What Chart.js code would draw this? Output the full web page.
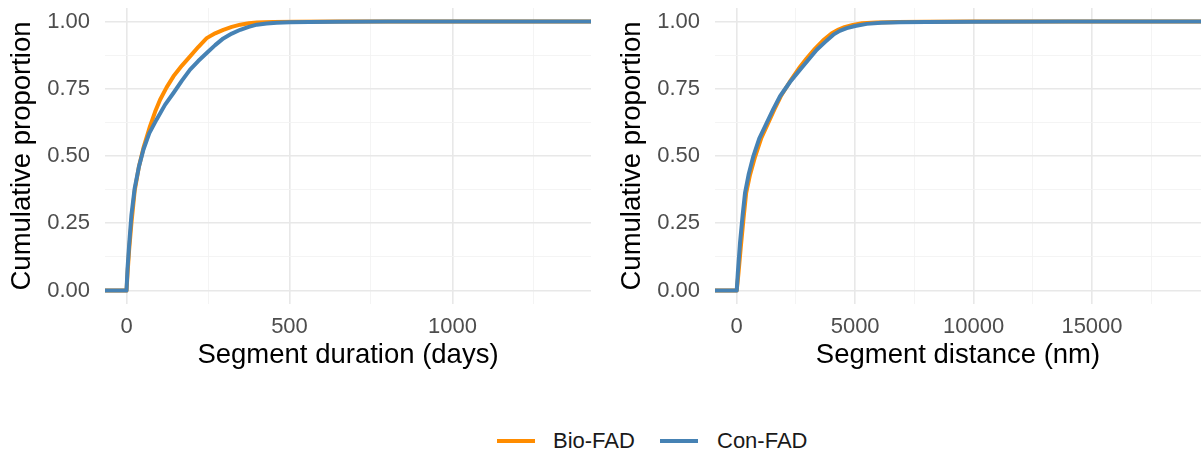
<!DOCTYPE html>
<html>
<head>
<meta charset="utf-8">
<script src="https://cdn.jsdelivr.net/npm/chart.js@4.4.1/dist/chart.umd.min.js"></script>
<style>
html,body{margin:0;padding:0;background:#ffffff;}
body{width:1204px;height:455px;position:relative;overflow:hidden;font-family:"Liberation Sans",Arial,sans-serif;}
#c1{position:absolute;left:0;top:0;}
#c2{position:absolute;left:610px;top:0;}
.lg-line{position:absolute;height:4px;top:439px;}
.lg-text{position:absolute;top:428px;font-size:22px;line-height:26px;color:#1a1a1a;white-space:nowrap;}
</style>
</head>
<body>
<canvas id="c1" width="600" height="400"></canvas>
<canvas id="c2" width="594" height="400"></canvas>
<div class="lg-line" style="left:497px;width:38px;background:#FF8C00;"></div>
<div class="lg-text" style="left:553px;">Bio-FAD</div>
<div class="lg-line" style="left:660px;width:38px;background:#4682B4;"></div>
<div class="lg-text" style="left:717px;">Con-FAD</div>
<script>
// ---------- DATA ----------
const seriesNames = ['Bio-FAD', 'Con-FAD'];

// Left panel: segment duration (days)
const durBioX = [0, 3, 8, 15, 25, 38, 52, 72, 88, 103, 123, 144, 170, 195, 220, 246, 272, 297, 323, 349, 375, 400, 450, 520, 650, 900, 1330];
const durBioY = [0, 0.06, 0.15, 0.25, 0.37, 0.46, 0.53, 0.61, 0.665, 0.709, 0.755, 0.796, 0.836, 0.870, 0.905, 0.938, 0.956, 0.969, 0.980, 0.988, 0.993, 0.996, 0.998, 0.999, 0.9995, 1, 1];
const durConX = [0, 3, 8, 15, 25, 38, 52, 70, 92, 118, 144, 170, 195, 220, 246, 272, 297, 323, 349, 375, 400, 430, 461, 502, 560, 650, 800, 1000, 1330];
const durConY = [0, 0.08, 0.17, 0.28, 0.38, 0.46, 0.524, 0.585, 0.635, 0.69, 0.734, 0.78, 0.821, 0.853, 0.883, 0.912, 0.937, 0.955, 0.969, 0.980, 0.988, 0.992, 0.995, 0.997, 0.998, 0.999, 0.9995, 1, 1];

// Right panel: segment distance (nm)
const distBioX = [0, 70, 170, 290, 400, 560, 780, 1030, 1330, 1600, 1860, 2250, 2620, 2950, 3300, 3650, 4000, 4300, 4550, 4900, 5300, 5900, 6800, 8000, 10000, 14000, 18400];
const distBioY = [0, 0.06, 0.16, 0.27, 0.363, 0.43, 0.499, 0.565, 0.623, 0.675, 0.722, 0.777, 0.825, 0.862, 0.898, 0.93, 0.955, 0.97, 0.979, 0.987, 0.993, 0.996, 0.998, 0.999, 0.9995, 1, 1];
const distConX = [0, 50, 139, 250, 351, 500, 701, 950, 1267, 1550, 1829, 2250, 2674, 3000, 3380, 3750, 4081, 4350, 4647, 5000, 5492, 6100, 6899, 8000, 10000, 14000, 18400];
const distConY = [0, 0.07, 0.177, 0.28, 0.363, 0.43, 0.499, 0.565, 0.623, 0.675, 0.722, 0.775, 0.821, 0.855, 0.895, 0.925, 0.951, 0.965, 0.975, 0.983, 0.991, 0.995, 0.997, 0.998, 0.999, 1, 1];

// Tick values / labels
const yMajorTicks = [0, 0.25, 0.5, 0.75, 1];
const yTickLabels = ['0.00', '0.25', '0.50', '0.75', '1.00'];
const yMinorTicks = [0.125, 0.375, 0.625, 0.875];

const durMajorTicks = [0, 500, 1000];
const durTickLabels = ['0', '500', '1000'];
const durMinorTicks = [250, 750, 1250];

const distMajorTicks = [0, 5000, 10000, 15000];
const distTickLabels = ['0', '5000', '10000', '15000'];
const distMinorTicks = [2500, 7500, 12500, 17500];

// Axis ranges
const durRange = [-66, 1425];
const distRange = [-917, 19603];
const yRange = [-0.05, 1.05];

// ---------- STYLE ----------
const FONT = '"Liberation Sans", Arial, sans-serif';
const COLORS = {'Bio-FAD': '#FF8C00', 'Con-FAD': '#4682B4'};

function toPoints(xs, ys, range) {
  const pts = xs.map((x, i) => ({x: x, y: ys[i]}));
  pts.unshift({x: range[0], y: ys[0]});
  pts.push({x: range[1], y: ys[ys.length - 1]});
  return pts;
}

function gridOpts(majors) {
  return {
    drawTicks: false,
    color: ctx => (ctx.tick && majors.includes(ctx.tick.value)) ? '#e8e8e8' : '#f3f3f3',
    lineWidth: ctx => (ctx.tick && majors.includes(ctx.tick.value)) ? 1.6 : 0.9
  };
}

function zeroPad(s) { s.paddingTop = 0; s.paddingBottom = 0; s.paddingLeft = 0; s.paddingRight = 0; }

function makeChart(id, padRight, xRange, xMajors, xLabels, xMinors, xTitle, bio, con) {
  const allX = xMajors.concat(xMinors).sort((a, b) => a - b);
  const allY = yMajorTicks.concat(yMinorTicks).sort((a, b) => a - b);
  return new Chart(document.getElementById(id), {
    type: 'scatter',
    data: {
      datasets: [
        {label: seriesNames[0], data: bio, borderColor: COLORS['Bio-FAD'], order: 1},
        {label: seriesNames[1], data: con, borderColor: COLORS['Con-FAD'], order: 0}
      ]
    },
    options: {
      responsive: false,
      animation: false,
      showLine: true,
      layout: {padding: {top: 8, right: padRight, left: 0, bottom: 0}},
      elements: {
        point: {radius: 0, hoverRadius: 0},
        line: {borderWidth: 4, tension: 0, borderJoinStyle: 'round', borderCapStyle: 'butt', fill: false}
      },
      plugins: {legend: {display: false}, tooltip: {enabled: false}},
      scales: {
        x: {
          type: 'linear',
          min: xRange[0], max: xRange[1],
          afterBuildTicks: s => { s.ticks = allX.map(v => ({value: v})); },
          afterFit: s => { s.height = 96; zeroPad(s); },
          grid: gridOpts(xMajors),
          border: {display: false},
          ticks: {
            autoSkip: false, maxRotation: 0, padding: 10, color: '#4d4d4d',
            font: {family: FONT, size: 22},
            callback: v => { const i = xMajors.indexOf(v); return i >= 0 ? xLabels[i] : ''; }
          },
          title: {display: true, text: xTitle, color: '#000000', font: {family: FONT, size: 27.5}, padding: {top: 0, bottom: 28.5}}
        },
        y: {
          type: 'linear',
          min: yRange[0], max: yRange[1],
          afterBuildTicks: s => { s.ticks = allY.map(v => ({value: v})); },
          afterFit: s => { s.width = 105; zeroPad(s); },
          grid: gridOpts(yMajorTicks),
          border: {display: false},
          ticks: {
            autoSkip: false, padding: 15, color: '#4d4d4d',
            font: {family: FONT, size: 22},
            callback: v => { const i = yMajorTicks.indexOf(v); return i >= 0 ? yTickLabels[i] : ''; }
          },
          title: {display: true, text: 'Cumulative proportion', color: '#000000', font: {family: FONT, size: 27.5}, padding: {top: 5.5, bottom: 0}}
        }
      }
    }
  });
}

makeChart('c1', 9, durRange, durMajorTicks, durTickLabels, durMinorTicks, 'Segment duration (days)',
  toPoints(durBioX, durBioY, durRange), toPoints(durConX, durConY, durRange));
makeChart('c2', 3, distRange, distMajorTicks, distTickLabels, distMinorTicks, 'Segment distance (nm)',
  toPoints(distBioX, distBioY, distRange), toPoints(distConX, distConY, distRange));
</script>
</body>
</html>
